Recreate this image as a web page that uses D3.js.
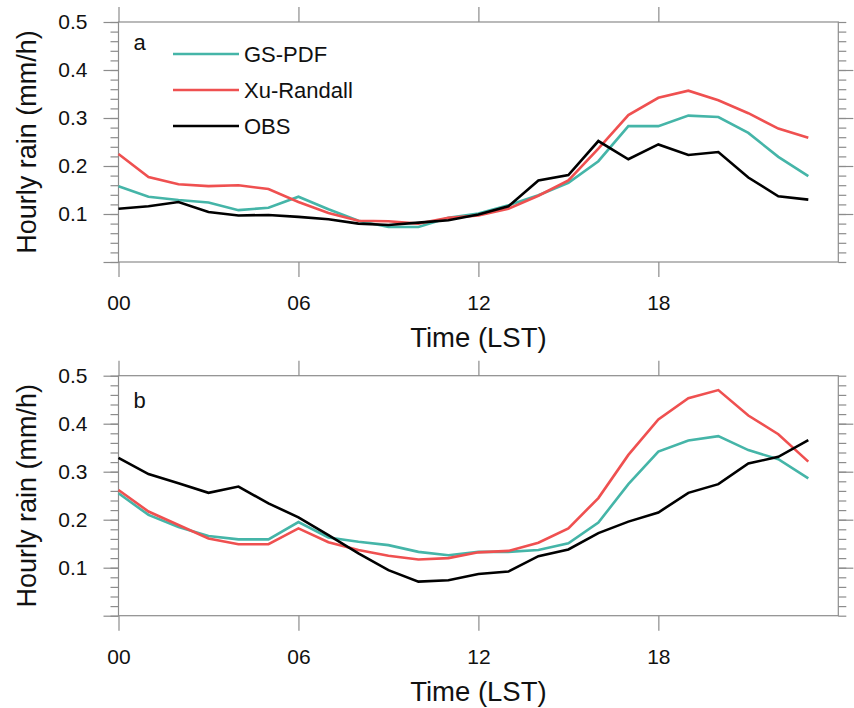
<!DOCTYPE html>
<html>
<head>
<meta charset="utf-8">
<script src="https://cdn.jsdelivr.net/npm/d3@7"></script>
<style>
  body { margin: 0; background: #fff; }
  svg { display: block; font-family: "Liberation Sans", Arial, sans-serif; }
</style>
</head>
<body>
<svg id="chart" width="854" height="708"></svg>
<script>
// hourly rain, diurnal cycle, two regions (a, b)
var hours = d3.range(0, 24);
var xTicks = [0, 6, 12, 18];
var xTickLabels = ["00", "06", "12", "18"];
var yTicks = [0, 0.1, 0.2, 0.3, 0.4, 0.5];
var yMinor = d3.range(0, 0.5001, 0.02);
var seriesNames = ["GS-PDF", "Xu-Randall", "OBS"];
var seriesColors = ["#45b5a8", "#ef5050", "#000000"];

var gsA  = [0.158,0.136,0.129,0.124,0.108,0.113,0.136,0.110,0.086,0.073,0.073,0.092,
            0.101,0.118,0.139,0.165,0.210,0.283,0.283,0.305,0.302,0.269,0.219,0.179];
var xuA  = [0.225,0.177,0.162,0.158,0.160,0.152,0.125,0.102,0.086,0.085,0.080,0.092,
            0.097,0.111,0.138,0.170,0.236,0.306,0.342,0.357,0.337,0.310,0.278,0.259];
var obsA = [0.111,0.116,0.125,0.104,0.097,0.098,0.094,0.089,0.080,0.077,0.082,0.087,
            0.099,0.116,0.170,0.181,0.252,0.214,0.245,0.223,0.229,0.176,0.137,0.130];

var gsB  = [0.255,0.210,0.185,0.166,0.159,0.159,0.195,0.163,0.154,0.147,0.133,0.126,
            0.133,0.133,0.137,0.151,0.194,0.274,0.342,0.365,0.374,0.345,0.326,0.286];
var xuB  = [0.262,0.217,0.189,0.161,0.149,0.149,0.182,0.153,0.137,0.125,0.117,0.120,
            0.132,0.135,0.152,0.182,0.245,0.335,0.409,0.453,0.470,0.417,0.378,0.321];
var obsB = [0.329,0.295,0.276,0.256,0.269,0.234,0.205,0.168,0.130,0.095,0.071,0.074,
            0.087,0.092,0.124,0.138,0.172,0.196,0.215,0.256,0.274,0.317,0.331,0.366];

var panels = [
  {label: "a", top: 22, labelDy: 28, series: [gsA, xuA, obsA], legend: true},
  {label: "b", top: 375.7, labelDy: 32.5, series: [gsB, xuB, obsB], legend: false}
];

var left = 118.5, w = 719.8, h = 240;
var svg = d3.select("#chart");
var frameColor = "#8c8c8c";

var x = d3.scaleLinear().domain([0, 24]).range([0, w]);
var y = d3.scaleLinear().domain([0, 0.5]).range([h, 0]);

function styleAxis(g){
  g.select(".domain").remove();
  g.selectAll(".tick line").attr("stroke", frameColor).attr("stroke-width", 1.2);
  g.selectAll("text").attr("fill", "#111").style("font-size", "21px");
}

panels.forEach(function(p){
  var g = svg.append("g").attr("transform", "translate(" + left + "," + p.top + ")");

  // minor ticks left/right
  g.append("g").call(d3.axisLeft(y).tickValues(yMinor).tickSize(8).tickFormat(""))
    .call(styleAxis);
  g.append("g").attr("transform", "translate(" + w + ",0)")
    .call(d3.axisRight(y).tickValues(yMinor).tickSize(8).tickFormat(""))
    .call(styleAxis);

  // major ticks
  g.append("g")
    .call(d3.axisLeft(y).tickValues(yTicks).tickSize(15).tickPadding(16)
      .tickFormat(function(d){ return d == 0 ? "" : d3.format(".1f")(d); }))
    .call(styleAxis);
  g.append("g").attr("transform", "translate(" + w + ",0)")
    .call(d3.axisRight(y).tickValues(yTicks.slice(1, 5)).tickSize(15).tickFormat(""))
    .call(styleAxis);
  g.append("g").attr("transform", "translate(0," + h + ")")
    .call(d3.axisBottom(x).tickValues(xTicks).tickSize(15).tickPadding(18)
      .tickFormat(function(d, i){ return xTickLabels[i]; }))
    .call(styleAxis);
  g.append("g")
    .call(d3.axisTop(x).tickValues(xTicks).tickSize(15).tickFormat(""))
    .call(styleAxis);

  // frame
  g.append("rect").attr("width", w).attr("height", h)
    .attr("fill", "none").attr("stroke", frameColor).attr("stroke-width", 1.2);

  // lines
  var line = d3.line().x(function(d, i){ return x(hours[i]); }).y(function(d){ return y(d); });
  p.series.forEach(function(s, k){
    g.append("path").datum(s).attr("d", line)
      .attr("fill", "none").attr("stroke", seriesColors[k])
      .attr("stroke-width", 2.6).attr("stroke-linejoin", "miter");
  });

  // panel letter
  g.append("text").attr("x", 15).attr("y", p.labelDy).text(p.label)
    .style("font-size", "22px").attr("fill", "#111");

  // axis titles
  g.append("text").attr("x", w / 2).attr("y", h + 85).attr("text-anchor", "middle")
    .text("Time (LST)").style("font-size", "27.5px").attr("fill", "#111");
  g.append("text").attr("transform", "translate(" + (36 - left) + "," + (h / 2) + ")rotate(-90)")
    .attr("text-anchor", "middle").text("Hourly rain (mm/h)")
    .style("font-size", "27px").attr("fill", "#111");

  if (p.legend) {
    var lg = g.append("g").attr("transform", "translate(54.5,32)");
    seriesNames.forEach(function(n, k){
      var yy = k * 36;
      lg.append("line").attr("x1", 0).attr("x2", 66).attr("y1", yy).attr("y2", yy)
        .attr("stroke", seriesColors[k]).attr("stroke-width", 2.6);
      lg.append("text").attr("x", 71).attr("y", yy).attr("dy", "0.36em").text(n)
        .style("font-size", "22px").attr("fill", "#111");
    });
  }
});
</script>
</body>
</html>
